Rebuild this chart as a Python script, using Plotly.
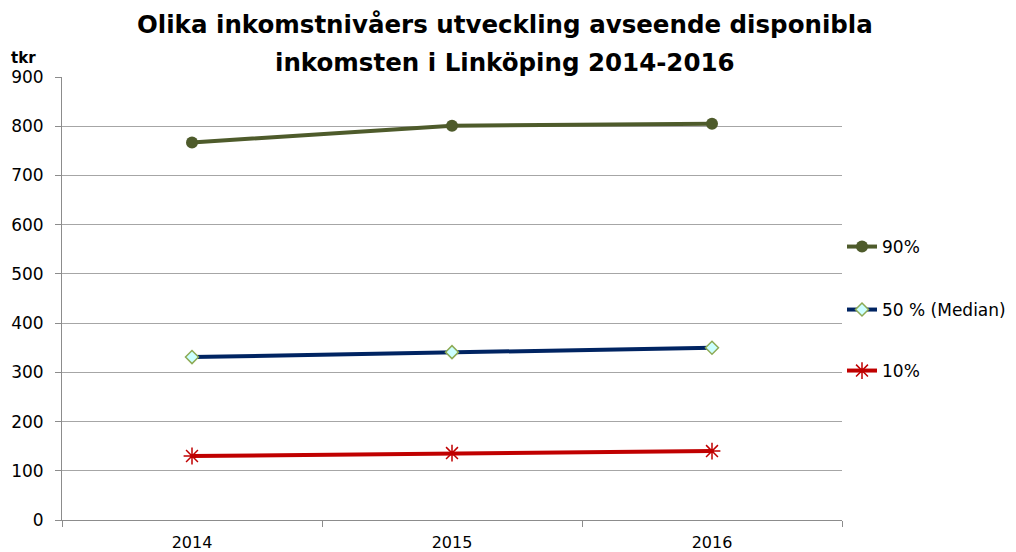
import plotly.graph_objects as go

years = ["2014", "2015", "2016"]
p90 = [767, 801, 805]
p50 = [331, 341, 350]
p10 = [130, 136, 140]
y_ticks = [0, 100, 200, 300, 400, 500, 600, 700, 800, 900]
title_lines = ["Olika inkomstnivåers utveckling avseende disponibla",
               "inkomsten i Linköping 2014-2016"]

FONT = "DejaVu Sans"

# plot area in screenshot pixels (figure sits at an 8px body offset)
PL, PR, PT, PB = 62, 842, 77, 520
PW, PH = PR - PL, PB - PT


def px_x(x):
    return (x - PL) / PW


def px_y(y):
    return 1 - (y - PT) / PH


fig = go.Figure()
fig.add_trace(go.Scatter(
    x=years, y=p90, name="90%", mode="lines+markers",
    line=dict(color="#4E5B2B", width=4),
    marker=dict(symbol="circle", size=12, color="#4E5B2B"),
    legend="legend"))
fig.add_trace(go.Scatter(
    x=years, y=p50, name="50 % (Median)", mode="lines+markers",
    line=dict(color="#002462", width=4),
    marker=dict(symbol="diamond", size=10, color="#CCFFFF",
                line=dict(color="#8DAA55", width=1.5)),
    legend="legend2"))
fig.add_trace(go.Scatter(
    x=years, y=p10, name="10%", mode="lines+markers",
    line=dict(color="#C00000", width=4),
    marker=dict(symbol="asterisk-open", size=14,
                line=dict(color="#C00000", width=1.5)),
    legend="legend3"))

leg_common = dict(font=dict(family=FONT, size=17, color="#000000"),
                  bgcolor="rgba(0,0,0,0)", xanchor="left", yanchor="middle",
                  x=px_x(842), itemwidth=30)
fig.update_layout(
    width=1008, height=544,
    paper_bgcolor="white", plot_bgcolor="white",
    margin=dict(l=PL - 8, r=1016 - PR, t=PT - 8, b=552 - PB, autoexpand=False),
    xaxis=dict(type="category", range=[-0.5, 2.5], tickson="boundaries",
               ticks="outside", ticklen=6, tickcolor="#8c8c8c",
               showline=True, linecolor="#8c8c8c", linewidth=1,
               showgrid=False, ticklabelstandoff=8, automargin=False,
               tickfont=dict(family=FONT, size=16, color="#000"),
               fixedrange=True),
    yaxis=dict(range=[0, 900], tickvals=y_ticks, ticks="outside", ticklen=6,
               tickcolor="#8c8c8c", showline=True, linecolor="#8c8c8c",
               gridcolor="#a6a6a6", gridwidth=1, zeroline=False,
               ticklabelstandoff=8, automargin=False,
               tickfont=dict(family=FONT, size=17, color="#000"),
               fixedrange=True),
    legend=dict(y=px_y(247), **leg_common),
    legend2=dict(y=px_y(310), **leg_common),
    legend3=dict(y=px_y(371), **leg_common),
    showlegend=True,
)

for txt, yc in zip(title_lines, [25, 62]):
    fig.add_annotation(text="<b>" + txt + "</b>", xref="paper", yref="paper",
                       x=px_x(505), y=px_y(yc), xanchor="center", yanchor="middle",
                       showarrow=False,
                       font=dict(family=FONT, size=24.5, color="#000"))

fig.add_annotation(text="<b>tkr</b>", xref="paper", yref="paper",
                   x=px_x(9), y=px_y(58),
                   xanchor="left", yanchor="middle", showarrow=False,
                   font=dict(family=FONT, size=15, color="#000"))

fig.write_html("out.html")
